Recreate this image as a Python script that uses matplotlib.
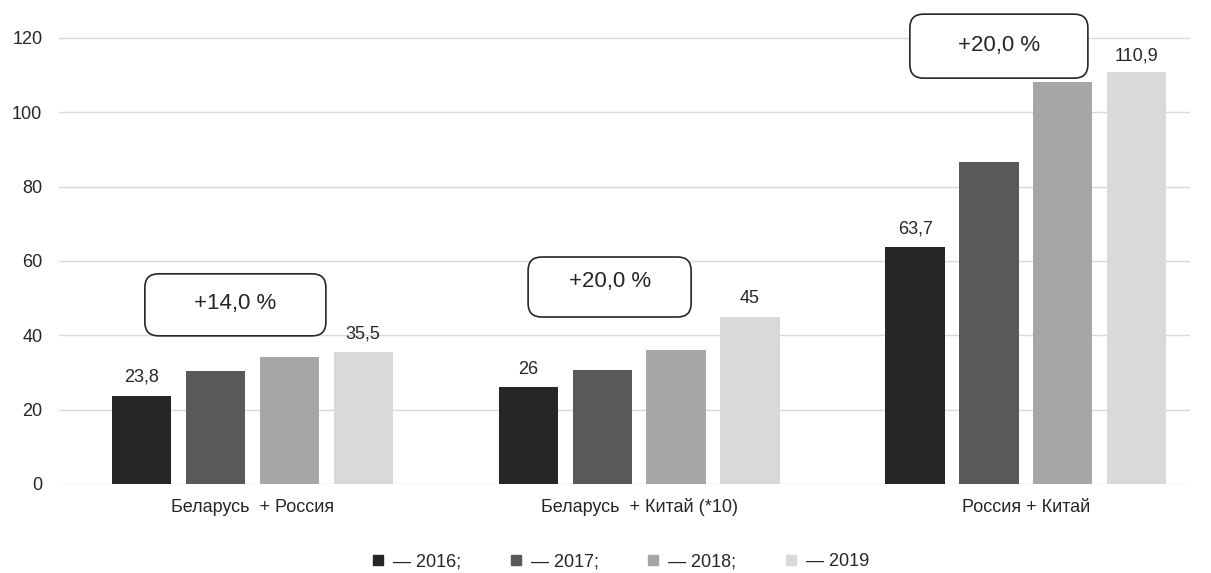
import matplotlib
matplotlib.use("Agg")
import matplotlib.pyplot as plt
from matplotlib.patches import FancyBboxPatch
from matplotlib.lines import Line2D
import numpy as np

plt.rcParams['font.family'] = ['Liberation Sans', 'DejaVu Sans']

categories = ["Беларусь  + Россия", "Беларусь  + Китай (*10)", "Россия + Китай"]
years = ["2016", "2017", "2018", "2019"]
v2016 = [23.8, 26, 63.7]
v2017 = [30.4, 30.7, 86.6]
v2018 = [34.2, 36.0, 108.2]
v2019 = [35.5, 45, 110.9]
series = [v2016, v2017, v2018, v2019]
labels_2016 = ["23,8", "26", "63,7"]
labels_2019 = ["35,5", "45", "110,9"]
growth = ["+14,0 %", "+20,0 %", "+20,0 %"]
colors = ["#262626", "#595959", "#a6a6a6", "#d9d9d9"]
yticks = [0, 20, 40, 60, 80, 100, 120]

W, H = 1211, 573
fig = plt.figure(figsize=(W / 100, H / 100), dpi=100)
ax = fig.add_axes([59 / W, 89 / H, (1190 - 59) / W, (484 - 19.4) / H])

x = np.arange(len(categories))
bw = 0.153
step = 0.191
offsets = (np.arange(4) - 1.5) * step
for i, (vals, c) in enumerate(zip(series, colors)):
    ax.bar(x + offsets[i], vals, width=bw, color=c, zorder=3)

txtc = "#262626"
fs = 13
for j in range(len(categories)):
    ax.annotate(labels_2016[j], (x[j] + offsets[0], v2016[j]), xytext=(0, 7),
                textcoords="offset points", ha="center", va="bottom",
                fontsize=fs, color=txtc)
    ax.annotate(labels_2019[j], (x[j] + offsets[3], v2019[j]), xytext=(0, 5 if j == 2 else 7),
                textcoords="offset points", ha="center", va="bottom",
                fontsize=fs, color=txtc)

ax.set_xlim(-0.5, (1190 - 252.5) / 386.7)
ax.set_ylim(0, 125)
ax.set_yticks(yticks)
ax.set_yticklabels([str(t) for t in yticks], fontsize=fs, color=txtc)
ax.set_xticks(x)
ax.set_xticklabels(categories, fontsize=fs, color=txtc)
for lbl in ax.get_xticklabels():
    lbl.set_verticalalignment('baseline')
ax.tick_params(length=0)
ax.tick_params(axis='y', pad=12)
ax.tick_params(axis='x', pad=20)
for s in ax.spines.values():
    s.set_visible(False)
ax.grid(axis='y', color="#d9d9d9", linewidth=1, zorder=0)
ax.set_axisbelow(True)

# growth boxes (x center offset from group center, y center, width, height in data units)
pxx = 386.7
pxy = 3.717
box_geo = [(-17 / pxx, 48.2, 181 / pxx, 62 / pxy),
           (-29.5 / pxx, 53.0, 163 / pxx, 60 / pxy),
           (-27 / pxx, 117.8, 178 / pxx, 64 / pxy)]
text_base = [47.1, 53.0, 116.5]
for j, (dx, yc, w, h) in enumerate(box_geo):
    cx = x[j] + dx
    aspect = pxx / pxy
    p = FancyBboxPatch((cx - w / 2, yc - h / 2), w, h,
                       boxstyle="round,pad=0,rounding_size=0.035",
                       mutation_aspect=aspect, facecolor="white",
                       edgecolor="#262626", linewidth=1.2, zorder=5, clip_on=False)
    ax.add_patch(p)
    ax.text(cx, text_base[j], growth[j], ha="center", va="baseline",
            fontsize=16, color=txtc, zorder=6)

handles = [Line2D([], [], linestyle="none", marker="s", markersize=7,
                  markerfacecolor=c, markeredgecolor=c) for c in colors]
leg_labels = ["— 2016;", "— 2017;", "— 2018;", "— 2019"]
fig.legend(handles, leg_labels, loc="center", bbox_to_anchor=(620 / W, 1 - 562 / H),
           ncol=4, frameon=False, fontsize=fs, handlelength=0.8, handletextpad=0.45,
           columnspacing=2.6, labelcolor=txtc)

fig.savefig("out.png", dpi=100)
